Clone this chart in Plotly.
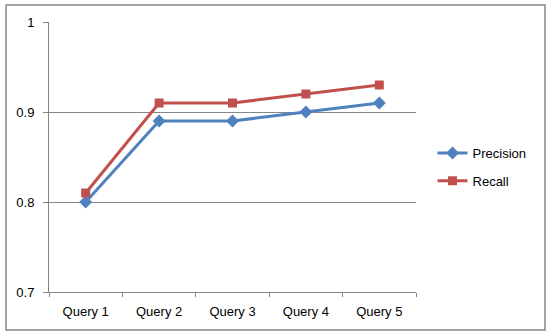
import plotly.graph_objects as go

categories = ["Query 1", "Query 2", "Query 3", "Query 4", "Query 5"]
precision = [0.80, 0.89, 0.89, 0.90, 0.91]
recall = [0.81, 0.91, 0.91, 0.92, 0.93]
y_ticks = [0.7, 0.8, 0.9, 1.0]
y_tick_labels = ["0.7", "0.8", "0.9", "1"]

BLUE = "#4F81BD"
RED = "#C0504D"
GRID = "#868686"

fig = go.Figure()
fig.add_trace(go.Scatter(x=categories, y=precision, name="Precision", mode="lines+markers",
                         legendgroup="p",
                         line=dict(color=BLUE, width=3),
                         marker=dict(symbol="diamond", size=10, color=BLUE)))
fig.add_trace(go.Scatter(x=categories, y=recall, name="Recall", mode="lines+markers",
                         legendgroup="r",
                         line=dict(color=RED, width=3),
                         marker=dict(symbol="square", size=9, color=RED)))

fig.update_layout(
    width=550, height=335,
    margin=dict(l=49, r=134, t=22, b=43, autoexpand=False),
    paper_bgcolor="white", plot_bgcolor="white",
    font=dict(family="Liberation Sans, Arial, sans-serif", size=13, color="#000000"),
    showlegend=True,
    legend=dict(x=1.045, y=0.463, xanchor="left", yanchor="middle",
                bgcolor="rgba(0,0,0,0)", font=dict(size=13),
                itemwidth=30, tracegroupgap=8),
    shapes=[dict(type="rect", xref="paper", yref="paper",
                 x0=-0.117, x1=1.3515, y0=-0.1407, y1=1.063,
                 line=dict(color=GRID, width=1.5), fillcolor="rgba(0,0,0,0)", layer="above")],
)
fig.update_xaxes(type="category", range=[-0.5, 4.5], tickson="boundaries",
                 ticks="outside", ticklen=4, tickcolor=GRID,
                 showline=True, linecolor=GRID, linewidth=1, showgrid=False,
                 ticklabelstandoff=7)
fig.update_yaxes(range=[0.7, 1.0], tickvals=y_ticks, ticktext=y_tick_labels,
                 ticks="outside", ticklen=5, tickcolor=GRID,
                 showline=True, linecolor=GRID, linewidth=1,
                 showgrid=True, gridcolor=GRID, gridwidth=1, zeroline=False,
                 ticklabelstandoff=6)

fig.write_html("out.html", config={"displayModeBar": False},
               post_script="document.body.style.margin='0';")
